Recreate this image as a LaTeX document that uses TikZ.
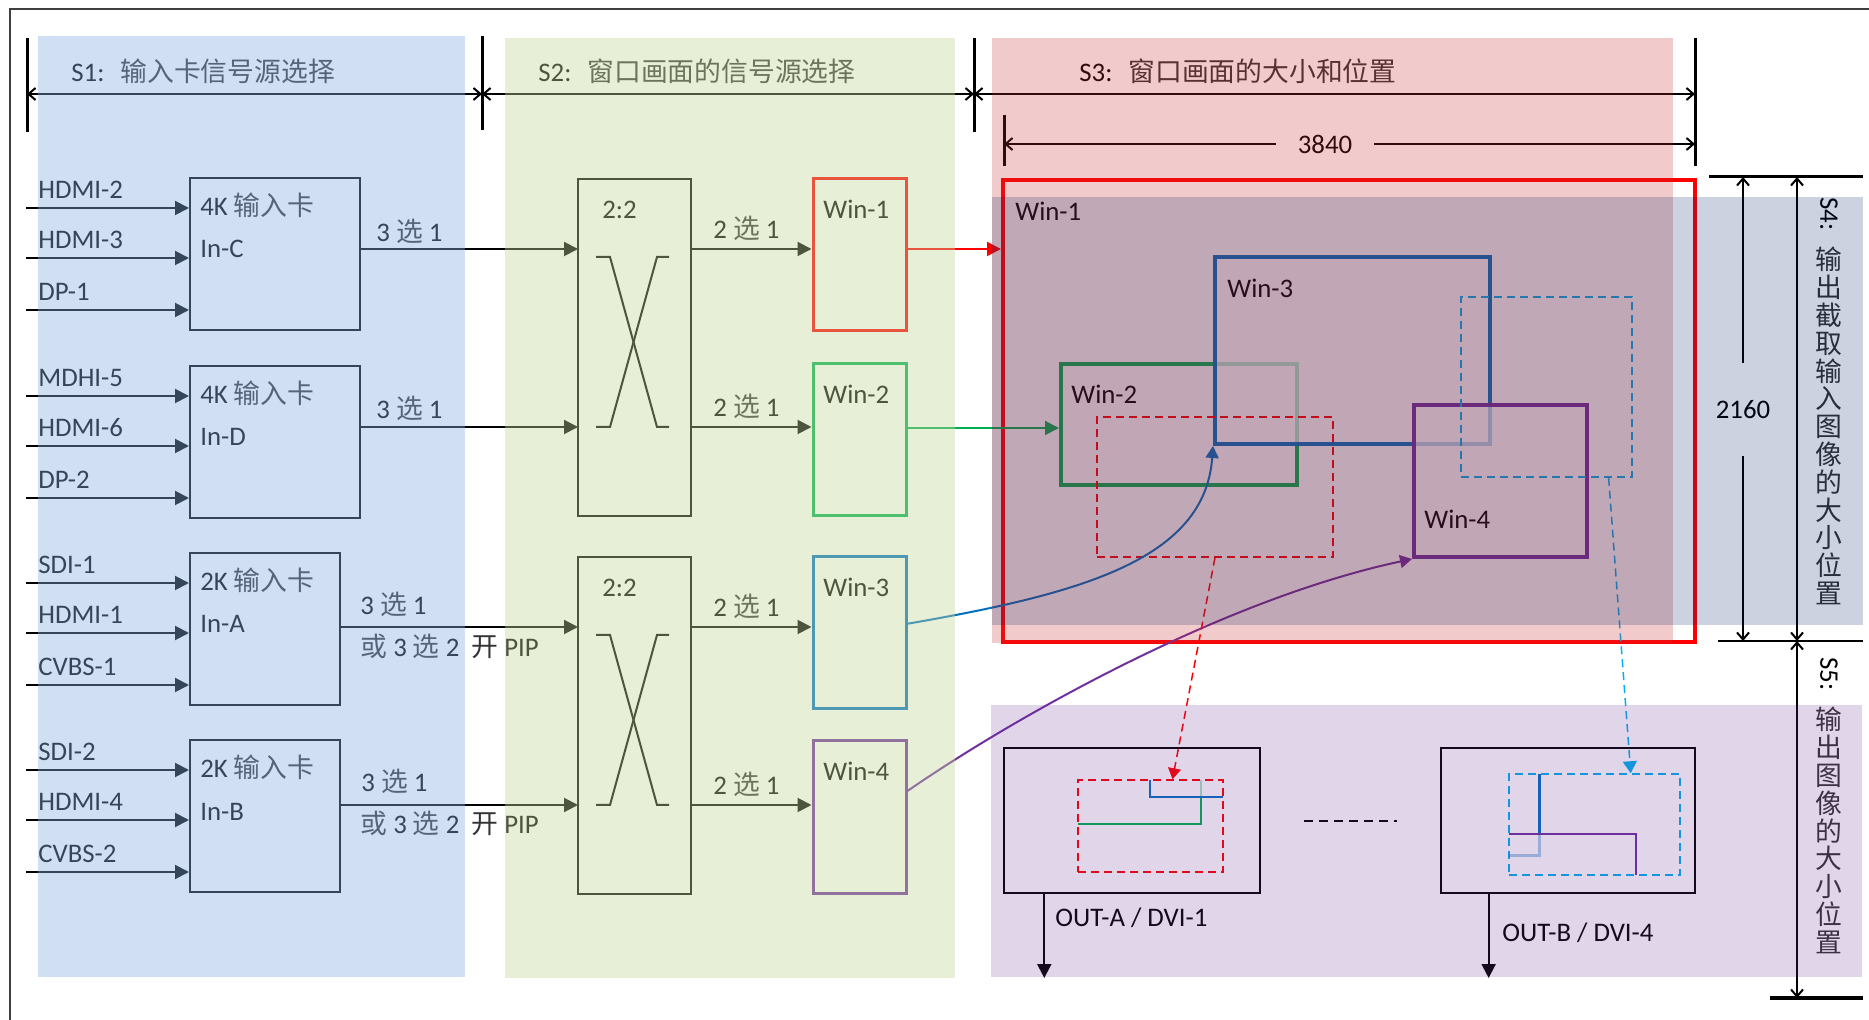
\documentclass[tikz,border=0pt]{standalone}
\usepackage{fontspec}
\setmainfont{Carlito}
\newfontfamily\zhfont{Noto Sans CJK SC}
\newcommand{\zh}[1]{{\zhfont\color{black!80}#1}}
\usetikzlibrary{arrows.meta,calc,fit}

\definecolor{ovblue}{RGB}{137,175,225}
\definecolor{ovgreen}{RGB}{195,214,155}
\definecolor{ovpink}{RGB}{200,44,48}
\definecolor{ovnavy}{RGB}{0,30,100}
\definecolor{ovpurple}{RGB}{105,45,150}
\definecolor{winred}{RGB}{255,0,0}
\definecolor{wingreen}{RGB}{0,176,80}
\definecolor{winblue}{RGB}{0,112,192}
\definecolor{winpurple}{RGB}{112,48,160}
\definecolor{wincyan}{RGB}{0,176,240}

\tikzset{
  txt/.style={inner sep=0pt, anchor=base west},
  cardbox/.style={draw, line width=1pt, inner sep=0pt},
  winsel/.style={draw=#1, line width=1.5pt, inner sep=0pt},
  winbig/.style={draw=#1, line width=2pt, inner sep=0pt, fill=white, fill opacity=0.7},
  cropbox/.style={draw=#1, line width=0.75pt, dash pattern=on 4pt off 2.5pt, inner sep=0pt},
  flowarrow/.style={line width=1pt, -{Triangle[length=7pt,width=7pt]}},
  curvearrow/.style={line width=1pt, -{Triangle[length=6pt,width=6.5pt]}},
  dimline/.style={line width=1pt, {Straight Barb[length=3.5pt,width=6pt]}-{Straight Barb[length=3.5pt,width=6pt]}},
  dimend/.style={line width=1pt, -{Straight Barb[length=3.5pt,width=6pt]}},
  tickline/.style={line width=1.5pt},
  vstack/.style={inner sep=0pt, align=center, text=black!80, font=\zhfont\fontsize{13.4pt}{13.9pt}\selectfont},
}

\begin{document}
\begin{tikzpicture}[x=0.5pt, y=-0.5pt, font=\fontsize{13.4pt}{16pt}\selectfont]
    \useasboundingbox (0,0) rectangle (1869,1020);
    \draw[line width=1pt, black!75] (10,1020) -- (10,9) -- (1869,9);

    % S1: input cards
    \foreach \cn/\ct/\cr/\ck/\inA/\inB/\inC in {C/178/360/4K/HDMI-2/HDMI-3/DP-1, D/366/360/4K/MDHI-5/HDMI-6/DP-2, A/553/340/2K/SDI-1/HDMI-1/CVBS-1, B/740/340/2K/SDI-2/HDMI-4/CVBS-2}{
        \node[cardbox, fit={(190,\ct) (\cr,\ct+152)}] (card\cn) {};
        \node[txt] (kind\cn) at (200,\ct+38) {\ck\ \zh{输入卡}};
        \node[txt] (name\cn) at (200,\ct+80) {In-\cn};
        \foreach \dy/\lbl [count=\i] in {30/\inA, 80/\inB, 132/\inC}{
            \coordinate (src\cn\i) at (26,\ct+\dy);
            \node[txt] (lbl\cn\i) at (38,\ct+\dy-9) {\lbl};
            \draw[flowarrow] (src\cn\i) -- (src\cn\i -| card\cn.west);
        }
    }

    % S2: 2:2 cross bars
    \foreach \n/\t in {1/179, 2/557}{
        \node[cardbox, fit={(578,\t) (691,\t+337)}] (xbar\n) {};
        \node[txt] (xlbl\n) at (602,\t+40) {2:2};
        \draw[line width=1pt] (596,\t+78) -- (610,\t+78) -- (657,\t+248) -- (669,\t+248);
        \draw[line width=1pt] (596,\t+248) -- (610,\t+248) -- (657,\t+78) -- (669,\t+78);
    }
    \foreach \c/\i/\y in {C/1/249, D/2/427, A/3/627, B/4/805}{
        \coordinate (xin\i) at (578,\y);
        \draw[flowarrow] (xin\i -| card\c.east) -- (xin\i);
    }
    \node[txt] (selC) at (376,242) {3 \zh{选} 1};
    \node[txt] (selD) at (376,419) {3 \zh{选} 1};
    \node[txt] (selA) at (360,615) {3 \zh{选} 1};
    \node[txt] (pipA) at (360,657) {\zh{或} 3 \zh{选} 2\ \ \zh{开} PIP};
    \node[txt] (selB) at (361,792) {3 \zh{选} 1};
    \node[txt] (pipB) at (360,834) {\zh{或} 3 \zh{选} 2\ \ \zh{开} PIP};

    % S2: window sources
    \foreach \n/\t/\col/\y in {1/179/winred/249, 2/364/wingreen/427, 3/557/winblue/627, 4/741/winpurple/805}{
        \node[winsel=\col, fit={(813,\t) (906,\t+152)}] (win\n) {};
        \node[txt] (winlbl\n) at (823,\t+40) {Win-\n};
        \coordinate (xout\n) at (691,\y);
        \draw[flowarrow] (xout\n) -- (xout\n -| win\n.west);
        \node[txt] (two\n) at (713,\y-10) {2 \zh{选} 1};
    }

    % S3: windows on the 3840x2160 canvas
    \node[draw=winred, line width=2pt, inner sep=0pt, fit={(1003,180) (1695,642)}] (big1) {};
    \node[txt] (biglbl1) at (1015,221) {Win-1};
    \node[winbig=wingreen, fit={(1061,364) (1297,485)}] (big2) {};
    \node[txt] (biglbl2) at (1071,404) {Win-2};
    \node[winbig=winblue, fit={(1215,257) (1490,444)}] (big3) {};
    \node[txt] (biglbl3) at (1227,298) {Win-3};
    \node[winbig=winpurple, fit={(1414,405) (1587,557)}] (big4) {};
    \node[txt] (biglbl4) at (1424,529) {Win-4};
    \node[cropbox=winred, fit={(1097,417) (1333,557)}] (crop1) {};
    \node[cropbox=wincyan, fit={(1461,297) (1632,477)}] (crop2) {};

    \coordinate (w1out) at (906,249);
    \coordinate (w2out) at (906,428);
    \coordinate (w3out) at (906,624);
    \coordinate (w4out) at (906,792);
    \draw[flowarrow, winred] (w1out) -- (w1out -| big1.west);
    \draw[flowarrow, wingreen] (w2out) -- (w2out -| big2.west);
    \draw[curvearrow, winblue] (w3out) .. controls (1080,594) and (1205,560) .. (big3.south west);
    \draw[curvearrow, winpurple] (w4out) .. controls (1010,720) and (1220,600) .. (big4.south west);

    % S5: outputs
    \node[cardbox, fit={(1004,748) (1260,893)}] (outA) {};
    \node[cardbox, fit={(1441,748) (1695,893)}] (outB) {};
    \node[cropbox=winred, fit={(1078,780) (1223,872)}] (cropA) {};
    \node[cropbox=wincyan, fit={(1509,774) (1680,875)}] (cropB) {};
    \draw[wingreen, line width=1.25pt] (1078,824) -- (1201,824) -- (1201,797);
    \draw[wingreen, line width=1.25pt, opacity=0.35] (1201,797) -- (1201,780);
    \draw[winblue, line width=1.25pt] (1150,780) -- (1150,797) -- (1223,797);
    \draw[winblue, line width=1.5pt, opacity=0.35] (1539,834) -- (1539,856) -- (1509,856);
    \draw[winblue, line width=1.5pt] (1539,774) -- (1539,834);
    \draw[winpurple, line width=1.25pt] (1509,834) -- (1636,834) -- (1636,875);
    \draw[winred, line width=0.75pt, dash pattern=on 4pt off 2.5pt, -{Triangle[length=5.5pt,width=6.5pt]}]
        (crop1.south) -- ($(cropA.north west)!0.65!(cropA.north east)$);
    \draw[wincyan, line width=0.75pt, dash pattern=on 4pt off 2.5pt, -{Triangle[length=6pt,width=7pt]}]
        ($(crop2.south west)!0.86!(crop2.south east)$) -- ($(cropB.north west)!0.71!(cropB.north east)$);
    \draw[line width=1.2pt, dash pattern=on 4.5pt off 3pt] (1304,821) -- (1397,821);

    \coordinate (oA) at ($(outA.south west)!0.16!(outA.south east)$);
    \coordinate (oB) at ($(outB.south west)!0.19!(outB.south east)$);
    \draw[flowarrow] (oA) -- ++(0,84);
    \draw[flowarrow] (oB) -- ++(0,84);
    \node[txt] (outAlbl) at (1055,926) {OUT-A / DVI-1};
    \node[txt] (outBlbl) at (1502,941) {OUT-B / DVI-4};

    % dimensions along the top
    \draw[tickline] (27,38) -- (27,132);
    \draw[tickline] (482,36) -- (482,130);
    \draw[tickline] (974,38) -- (974,132);
    \draw[tickline] (1695,38) -- (1695,166);
    \draw[tickline] (1004,115) -- (1004,166);
    \coordinate (d0) at (27,94);
    \coordinate (d1) at (482,94);
    \coordinate (d2) at (974,94);
    \coordinate (d3) at (1695,94);
    \draw[dimline] (d0) -- (d1);
    \draw[dimline] (d1) -- (d2);
    \draw[dimline] (d2) -- (d3);
    \node[txt] (title1) at (71,82) {S1:\hspace{0.6em}\zh{输入卡信号源选择}};
    \node[txt] (title2) at (538,82) {S2:\hspace{0.6em}\zh{窗口画面的信号源选择}};
    \node[txt] (title3) at (1079,82) {S3:\hspace{0.6em}\zh{窗口画面的大小和位置}};
    \node[minimum width=49pt, inner sep=0pt] (w3840) at (1325,144) {3840};
    \coordinate (l3840) at (1004,144);
    \coordinate (r3840) at (1695,144);
    \draw[dimend] (w3840.west) -- (l3840);
    \draw[dimend] (w3840.east) -- (r3840);

    % dimensions on the right
    \draw[line width=1.5pt] (1709,177) -- (1863,177);
    \draw[line width=1pt] (1718,641) -- (1863,641);
    \draw[line width=1.75pt] (1770,998) -- (1863,998);
    \coordinate (v0) at (1797,177);
    \coordinate (v1) at (1797,641);
    \coordinate (v2) at (1797,998);
    \draw[dimline] (v0) -- (v1);
    \draw[dimline] (v1) -- (v2);
    \node[minimum height=46.5pt, inner sep=0pt] (h2160) at (1743,409.5) {2160};
    \coordinate (h0) at (1743,177);
    \coordinate (h1) at (1743,641);
    \draw[dimend] (h2160.north) -- (h0);
    \draw[dimend] (h2160.south) -- (h1);
    \node[rotate=-90, anchor=west, inner sep=0pt] (s4tag) at (1829,197) {S4:};
    \node[vstack, anchor=north] (s4txt) at (1829,247) {输\\出\\截\\取\\输\\入\\图\\像\\的\\大\\小\\位\\置};
    \node[rotate=-90, anchor=west, inner sep=0pt] (s5tag) at (1829,657) {S5:};
    \node[vstack, anchor=north] (s5txt) at (1829,707) {输\\出\\图\\像\\的\\大\\小\\位\\置};

    % tinted stage panels
    \fill[ovblue, opacity=0.4] (38,36) rectangle (465,977);
    \fill[ovgreen, opacity=0.4] (505,38) rectangle (955,978);
    \fill[ovpink, opacity=0.25] (992,38) rectangle (1673,643);
    \fill[ovnavy, opacity=0.2] (992,197) rectangle (1863,625);
    \fill[ovpurple, opacity=0.2] (991,705) rectangle (1862,977);
\end{tikzpicture}
\end{document}
